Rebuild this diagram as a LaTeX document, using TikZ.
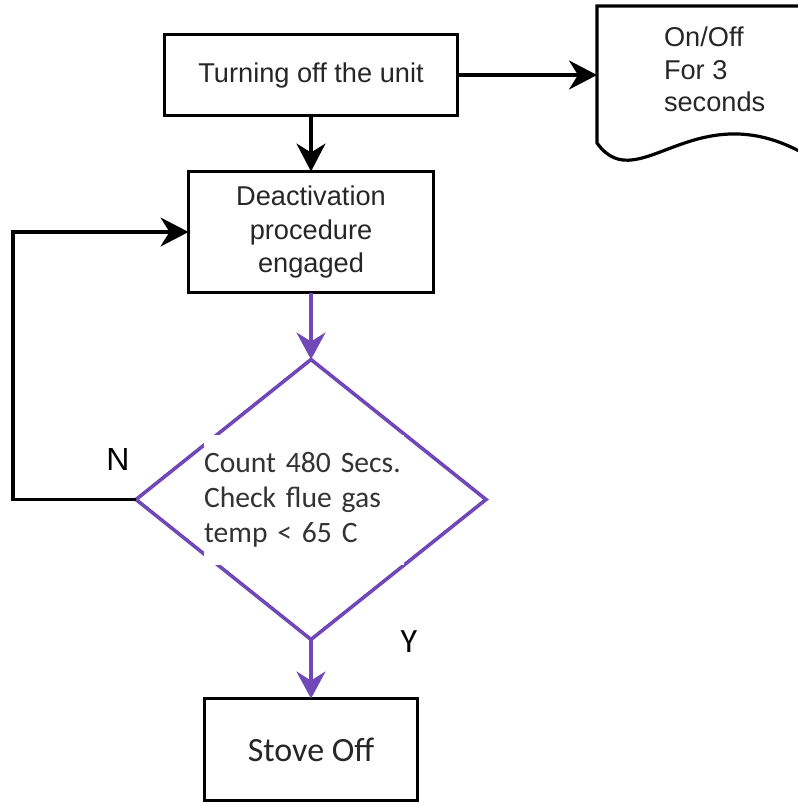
\documentclass[tikz,border=0pt]{standalone}
\usepackage{fontspec}
\setmainfont{Liberation Sans}
\newfontfamily\calibri{Carlito}
\usetikzlibrary{positioning,shapes.geometric,arrows.meta}
\definecolor{vio}{RGB}{112,72,184}
\tikzset{
  every node/.style={outer sep=0pt},
  box/.style={draw, line width=1.6pt, align=center, text=black!85,
    font=\fontsize{13.6}{16.75}\selectfont},
  dec/.style={diamond, draw=vio, line width=1.8pt, inner sep=0pt,
    minimum width=175pt, minimum height=140pt},
  link/.style={line width=1.6pt, -{Stealth[length=14pt,width=14.5pt,inset=4.5pt]}},
  flow/.style={draw=vio, line width=1.8pt, -{Stealth[length=13.5pt,width=14.5pt,inset=4.5pt]}},
}
\begin{document}
\begin{tikzpicture}[x=0.5pt, y=-0.5pt]
    \useasboundingbox (0,0) rectangle (798,804);

    % Define nodes
    \node[box, minimum width=146.5pt, minimum height=40.5pt] (turn) at (311,75) {Turning off the unit};
    \node[box, below=28pt of turn, minimum width=122.5pt, minimum height=60.5pt] (deact) {Deactivation\\procedure\\engaged};
    \node[dec, below=33.5pt of deact]        (check) {};
    \node[fill=white, inner xsep=0pt, inner ysep=1pt, text width=100pt, minimum height=65pt, align=left,
          font=\calibri\fontsize{14.8}{17.5}\selectfont, text=black!80]
          (cond) at ([shift={(-3.5pt,0pt)}]check) {Count 480 Secs.\\Check flue gas\\temp < 65 C};
    \node[box, below=29.5pt of check, minimum width=106.5pt, minimum height=51pt,
          font=\calibri\fontsize{17}{20}\selectfont] (stove) {Stove Off};
    \coordinate (corner) at (597,6);
    \node[anchor=north west, inner sep=0pt, align=left, text=black!85,
          font=\fontsize{13.6}{16.25}\selectfont] (note) at (664,27) {On/Off\\For 3\\seconds};
    \node[font=\fontsize{16}{16}\selectfont] (n) at ([shift={(-9pt,20pt)}]check.west) {N};
    \node[font=\calibri\fontsize{17}{17}\selectfont] (y) at ([shift={(49pt,-1pt)}]check.south) {Y};

    % Note outline
    \draw[line width=1.6pt] (corner -| 805,0) -- (corner) -- ++(0,137)
      .. controls +(43,60) and +(-122,-85) .. (822,165);

    % Connect the nodes
    \draw[link] (turn) -- (deact);
    \draw[link] (turn.east) -- (turn.east -| corner);
    \draw[flow] (deact) -- (check);
    \draw[flow] (check) -- (stove);
    \draw[link] (check.west) -- ++(-123,0) |- (deact.west);

\end{tikzpicture}
\end{document}
